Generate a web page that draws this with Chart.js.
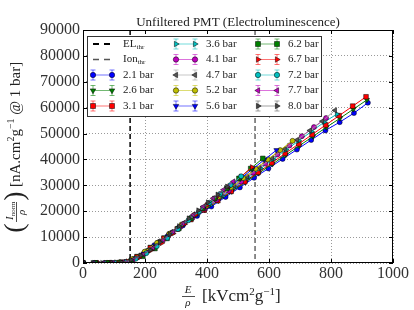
<!DOCTYPE html>
<html>
<head>
<meta charset="utf-8">
<script src="https://cdn.jsdelivr.net/npm/chart.js@4/dist/chart.umd.min.js"></script>
<style>
html, body { margin: 0; padding: 0; background: #fff; }
</style>
</head>
<body>
<canvas id="myChart" width="414" height="310"></canvas>
<script>
// valeurs (E/rho, I/rho)
var labels = ['2.1 bar', '2.6 bar', '3.1 bar', '3.6 bar', '4.1 bar', '4.7 bar', '5.2 bar',
              '5.6 bar', '6.2 bar', '6.7 bar', '7.2 bar', '7.7 bar', '8.0 bar'];

var x21 = [0, 46, 92, 138, 184, 230, 276, 322, 368, 414, 460, 506, 552, 598, 644, 690, 736, 782, 828, 874, 919];
var y21 = [0, 0, 60, 400, 2700, 6900, 10800, 14500, 18200, 21800, 25500, 29200, 32900, 36500, 40200, 43800, 47500, 51200, 54400, 57900, 61900];
var x26 = [0, 44, 87, 131, 175, 218, 262, 305, 349, 393, 436, 480, 524, 567, 611, 654, 698, 742, 785, 829, 872, 916];
var y26 = [0, 0, 50, 250, 2800, 6300, 9900, 13400, 17000, 20500, 24000, 27600, 31200, 34700, 38200, 41700, 45300, 48900, 52400, 55900, 59400, 63000];
var x31 = [0, 43, 87, 130, 174, 217, 261, 304, 348, 391, 435, 478, 522, 565, 609, 652, 696, 739, 783, 826, 870, 913];
var y31 = [0, 0, 40, 300, 2300, 5800, 9500, 13100, 16800, 20400, 24100, 27700, 31400, 35000, 38700, 42300, 46000, 49600, 53300, 56900, 60600, 64200];
var x36 = [0, 41, 82, 123, 164, 205, 246, 287, 328, 369, 410, 451, 491, 532, 573, 614, 655, 696, 737, 778, 819];
var y36 = [0, 0, 30, 200, 1500, 4400, 7900, 11500, 15100, 18700, 22300, 25800, 29300, 32900, 36500, 40100, 43700, 47200, 50800, 54400, 57500];
var x41 = [0, 39, 78, 118, 157, 196, 235, 274, 314, 353, 392, 431, 470, 510, 549, 588, 627, 666, 706, 745, 784];
var y41 = [0, 0, 30, 200, 1000, 3700, 6800, 10300, 13900, 17400, 20900, 24400, 27900, 31400, 34900, 38400, 41900, 45400, 49000, 52500, 56000];
var x47 = [0, 41, 81, 122, 163, 203, 244, 285, 325, 366, 407, 447, 488, 529, 569, 610, 651, 691, 732, 772, 813];
var y47 = [0, 0, 40, 250, 1800, 4800, 8400, 12000, 15500, 19100, 22700, 26200, 29800, 33400, 36900, 40500, 44100, 47600, 51200, 54800, 59000];
var x52 = [0, 40, 80, 119, 159, 199, 239, 278, 318, 358, 398, 437, 477, 517, 557, 596, 636, 676];
var y52 = [0, 0, 30, 250, 1500, 4400, 7800, 11300, 14900, 18500, 22100, 25600, 29200, 32800, 36400, 40000, 43600, 47200];
var x56 = [0, 39, 78, 117, 156, 195, 234, 273, 312, 351, 390, 429, 468, 507, 546, 585, 624];
var y56 = [0, 0, 20, 200, 900, 3500, 6600, 10300, 14000, 17700, 21400, 25100, 28800, 32500, 36200, 39900, 43600];
var x62 = [0, 39, 77, 116, 155, 193, 232, 271, 309, 348, 387, 425, 464, 503, 541, 580];
var y62 = [0, 0, 20, 150, 800, 2600, 5600, 9500, 13300, 17200, 21100, 24900, 28800, 32700, 36500, 40400];
var x67 = [0, 36, 73, 109, 145, 182, 218, 254, 291, 327, 363, 400, 436, 472, 509, 545];
var y67 = [0, 0, 20, 150, 600, 2200, 4800, 7700, 11400, 15000, 18600, 22400, 26000, 29600, 33300, 37000];
var x72 = [0, 34, 68, 102, 136, 170, 204, 238, 272, 306, 340, 374, 408, 442, 476, 510];
var y72 = [0, 0, 20, 100, 300, 1600, 3800, 6500, 9700, 13100, 16500, 19900, 23300, 26700, 30100, 33500];
var x77 = [0, 32, 65, 97, 129, 162, 194, 226, 259, 291, 323, 356, 388, 420, 453, 485];
var y77 = [0, 0, 20, 100, 300, 1400, 3300, 5800, 8900, 12100, 15300, 18600, 21800, 25000, 28300, 31500];
var x80 = [0, 31, 62, 93, 124, 155, 186, 217, 248, 279, 310, 341, 372, 403, 434, 465];
var y80 = [0, 0, 10, 100, 300, 1200, 2900, 5000, 8000, 11100, 14200, 17200, 20300, 23400, 26400, 29500];

var elThr = 152;
var ionThr = 555;
var xTicks = [0, 200, 400, 600, 800, 1000];
var yTicks = [0, 10000, 20000, 30000, 40000, 50000, 60000, 70000, 80000, 90000];

var allX = [x21, x26, x31, x36, x41, x47, x52, x56, x62, x67, x72, x77, x80];
var allY = [y21, y26, y31, y36, y41, y47, y52, y56, y62, y67, y72, y77, y80];

// styles
var lineColors = ['#0000ff', '#008000', '#ff0000', '#00bfbf', '#bf00bf', '#999999', '#bfbf00',
                  '#0000ff', '#008000', '#ff0000', '#00bfbf', '#bf00bf', '#555555'];
var fillColors = ['#0000ff', '#008000', '#ff0000', '#00bfbf', '#bf00bf', '#555555', '#bfbf00',
                  '#0000ff', '#008000', '#ff0000', '#00bfbf', '#bf00bf', '#444444'];
var shapes = ['circle', 'triangle', 'rect', 'triangle', 'circle', 'triangle', 'circle',
              'triangle', 'rect', 'triangle', 'circle', 'triangle', 'triangle'];
var rotations = [0, 180, 0, 90, 0, 270, 0, 180, 0, 90, 0, 270, 90];

var serif = '"Liberation Serif", "DejaVu Serif", serif';

var datasets = [];
for (var i = 0; i < labels.length; i++) {
  var pts = [];
  for (var j = 0; j < allX[i].length; j++) {
    pts.push({x: allX[i][j], y: allY[i][j]});
  }
  datasets.push({
    label: labels[i],
    data: pts,
    showLine: true,
    borderColor: lineColors[i],
    borderWidth: 1,
    pointStyle: shapes[i],
    pointRotation: rotations[i],
    pointRadius: shapes[i] == 'rect' ? 3.3 : (shapes[i] == 'triangle' ? 3 : 2.5),
    pointBackgroundColor: fillColors[i],
    pointBorderColor: '#000',
    pointBorderWidth: 0.5,
    order: labels.length - i
  });
}

function drawMarker(ctx, shape, rot, x, y, fill) {
  ctx.save();
  ctx.beginPath();
  if (shape == 'circle') {
    ctx.arc(x, y, 2.7, 0, Math.PI * 2);
  } else if (shape == 'rect') {
    ctx.rect(x - 2.5, y - 2.5, 5, 5);
  } else {
    var a = rot * Math.PI / 180;
    for (var k = 0; k < 3; k++) {
      var t = a + k * 2 * Math.PI / 3;
      var px = x + Math.sin(t) * 3.2, py = y - Math.cos(t) * 3.2;
      if (k == 0) ctx.moveTo(px, py); else ctx.lineTo(px, py);
    }
    ctx.closePath();
  }
  ctx.fillStyle = fill;
  ctx.fill();
  ctx.lineWidth = 0.5;
  ctx.strokeStyle = '#000';
  ctx.stroke();
  ctx.restore();
}

// texte avec indices / exposants : [texte, taille, decalage vertical, italique]
function drawRich(ctx, parts, x, y) {
  var cx = x;
  parts.forEach(function(p) {
    ctx.font = (p[3] ? 'italic ' : '') + p[1] + 'px ' + serif;
    ctx.fillText(p[0], cx, y + p[2]);
    cx += ctx.measureText(p[0]).width;
  });
  return cx;
}

var decor = {
  id: 'decor',
  beforeDatasetsDraw: function(chart) {
    var ctx = chart.ctx, a = chart.chartArea, xs = chart.scales.x;
    ctx.save();
    ctx.setLineDash([5, 3]);
    ctx.lineWidth = 1.5;
    ctx.strokeStyle = '#000';
    var px = xs.getPixelForValue(elThr);
    ctx.beginPath(); ctx.moveTo(px, a.top); ctx.lineTo(px, a.bottom); ctx.stroke();
    ctx.strokeStyle = '#666';
    px = xs.getPixelForValue(ionThr);
    ctx.beginPath(); ctx.moveTo(px, a.top); ctx.lineTo(px, a.bottom); ctx.stroke();
    ctx.restore();
  },
  afterDraw: function(chart) {
    var ctx = chart.ctx, a = chart.chartArea;
    var xs = chart.scales.x, ys = chart.scales.y;
    ctx.save();

    // cadre et graduations vers l'interieur
    ctx.strokeStyle = '#000';
    ctx.lineWidth = 1;
    ctx.strokeRect(a.left + 0.5, a.top + 0.5, a.right - a.left - 1, a.bottom - a.top - 1);
    ctx.beginPath();
    xTicks.forEach(function(v) {
      var p = Math.round(xs.getPixelForValue(v)) + 0.5;
      ctx.moveTo(p, a.bottom); ctx.lineTo(p, a.bottom - 4);
      ctx.moveTo(p, a.top); ctx.lineTo(p, a.top + 4);
    });
    yTicks.forEach(function(v) {
      var p = Math.round(ys.getPixelForValue(v)) + 0.5;
      ctx.moveTo(a.left, p); ctx.lineTo(a.left + 4, p);
      ctx.moveTo(a.right, p); ctx.lineTo(a.right - 4, p);
    });
    ctx.stroke();

    // titre
    ctx.fillStyle = '#222';
    ctx.textAlign = 'center';
    ctx.textBaseline = 'middle';
    ctx.font = '13px ' + serif;
    ctx.fillText('Unfiltered PMT (Electroluminescence)', (a.left + a.right) / 2, 23);

    // titre axe x
    ctx.font = 'italic 11px ' + serif;
    ctx.fillText('E', 188, 290);
    ctx.fillText('\u03c1', 188, 303);
    ctx.beginPath();
    ctx.moveTo(182, 296.5); ctx.lineTo(195, 296.5);
    ctx.lineWidth = 0.8; ctx.strokeStyle = '#222'; ctx.stroke();
    ctx.textAlign = 'left';
    drawRich(ctx, [['[kVcm', 17, 0], ['2', 11, -5], ['g', 17, 0], ['\u22121', 11, -5], [']', 17, 0]], 202, 297);

    // titre axe y (tourne)
    ctx.save();
    ctx.translate(16, 0);
    ctx.rotate(-Math.PI / 2);
    ctx.textAlign = 'center';
    ctx.font = '28px ' + serif;
    ctx.fillText('(', -228, 0);
    ctx.fillText(')', -196, 0);
    ctx.textAlign = 'left';
    drawRich(ctx, [['I', 11, -6, true], ['norm', 7, -3]], -220, 0);
    ctx.font = 'italic 11px ' + serif;
    ctx.fillText('\u03c1', -215, 6);
    ctx.beginPath();
    ctx.moveTo(-222, 0.5); ctx.lineTo(-202, 0.5);
    ctx.lineWidth = 0.8; ctx.stroke();
    drawRich(ctx, [['[nA.cm', 15, 0], ['2', 10, -5], ['g', 15, 0], ['\u22121', 10, -5], [' @ 1 bar]', 15, 0]], -187, 0);
    ctx.restore();

    // legende
    ctx.fillStyle = '#fff';
    ctx.fillRect(87.5, 36.5, 234, 80);
    ctx.strokeStyle = '#333';
    ctx.lineWidth = 1;
    ctx.strokeRect(87.5, 36.5, 234, 80);

    var colX = [93, 176, 258];
    var rowY = function(r) { return 44 + r * 15.5; };

    ctx.textAlign = 'left';
    ctx.textBaseline = 'middle';
    ctx.fillStyle = '#222';

    // seuils
    ctx.save();
    ctx.setLineDash([6, 5]);
    ctx.lineWidth = 2; ctx.strokeStyle = '#000';
    ctx.beginPath(); ctx.moveTo(93, rowY(0)); ctx.lineTo(112, rowY(0)); ctx.stroke();
    ctx.lineWidth = 1.5; ctx.strokeStyle = '#555';
    ctx.beginPath(); ctx.moveTo(93, rowY(1)); ctx.lineTo(112, rowY(1)); ctx.stroke();
    ctx.restore();
    drawRich(ctx, [['EL', 11, 0], ['thr', 7, 3]], 123, rowY(0));
    drawRich(ctx, [['Ion', 11, 0], ['thr', 7, 3]], 123, rowY(1));

    for (var i = 0; i < labels.length; i++) {
      var slot = i + 2;
      var c = Math.floor(slot / 5), r = slot % 5;
      var x1 = colX[c], x2 = colX[c] + 19, y = rowY(r);
      ctx.save();
      ctx.globalAlpha = 0.55;
      ctx.strokeStyle = lineColors[i];
      ctx.lineWidth = 1;
      ctx.beginPath();
      ctx.moveTo(x1, y); ctx.lineTo(x2, y);
      [x1, x2].forEach(function(x) {
        ctx.moveTo(x, y - 5); ctx.lineTo(x, y + 5);
        ctx.moveTo(x - 2.5, y - 5); ctx.lineTo(x + 2.5, y - 5);
        ctx.moveTo(x - 2.5, y + 5); ctx.lineTo(x + 2.5, y + 5);
      });
      ctx.stroke();
      ctx.restore();
      drawMarker(ctx, shapes[i], rotations[i], x1, y, fillColors[i]);
      drawMarker(ctx, shapes[i], rotations[i], x2, y, fillColors[i]);
      ctx.font = '11px ' + serif;
      ctx.fillStyle = '#222';
      ctx.fillText(labels[i], x1 + 30, y);
    }

    ctx.restore();
  }
};

var ctx = document.getElementById('myChart').getContext('2d');
var myChart = new Chart(ctx, {
  type: 'scatter',
  data: { datasets: datasets },
  plugins: [decor],
  options: {
    responsive: false,
    animation: false,
    devicePixelRatio: 1,
    layout: { padding: { top: 30, right: 21, left: 0, bottom: 0 } },
    plugins: { legend: { display: false }, tooltip: { enabled: false }, title: { display: false } },
    scales: {
      x: {
        type: 'linear',
        min: 0,
        max: 1000,
        afterBuildTicks: function(s) { s.ticks = xTicks.map(function(v) { return {value: v}; }); },
        afterFit: function(s) { s.height = 47; },
        ticks: { font: { family: serif, size: 16 }, color: '#333', padding: 1, maxRotation: 0, autoSkip: false,
                 callback: function(v) { return String(v); } },
        grid: { color: '#999', lineWidth: 1, drawTicks: false },
        border: { display: false, dash: [1, 2] }
      },
      y: {
        type: 'linear',
        min: 0,
        max: 90000,
        afterBuildTicks: function(s) { s.ticks = yTicks.map(function(v) { return {value: v}; }); },
        afterFit: function(s) { s.width = 83; },
        ticks: { font: { family: serif, size: 16 }, color: '#333', padding: 3, autoSkip: false,
                 callback: function(v) { return String(v); } },
        grid: { color: '#999', lineWidth: 1, drawTicks: false },
        border: { display: false, dash: [1, 2] }
      }
    }
  }
});
</script>
</body>
</html>
